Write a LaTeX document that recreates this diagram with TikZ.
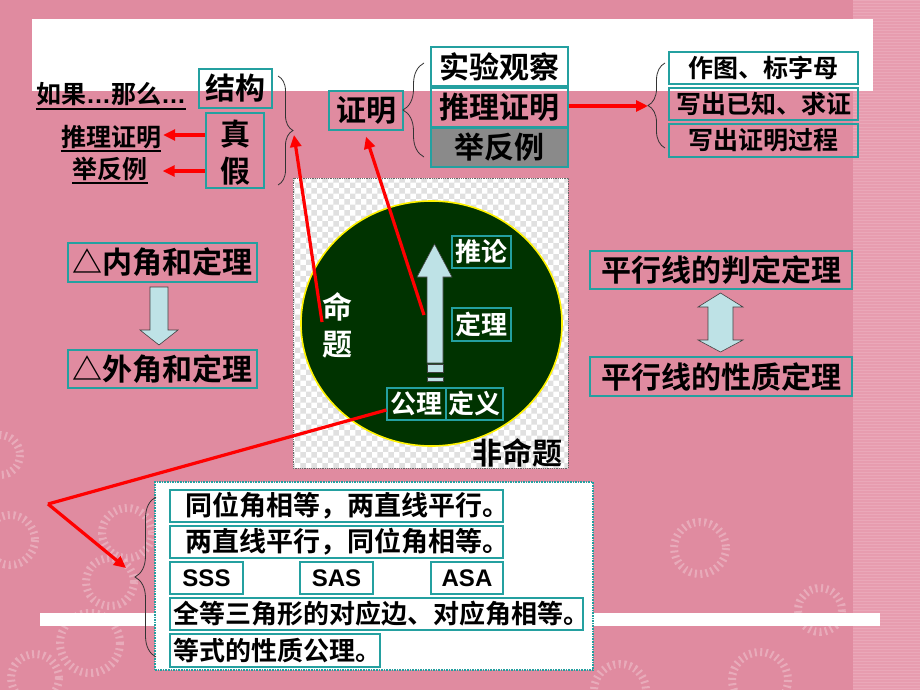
\documentclass[tikz,border=0pt]{standalone}
\usepackage{fontspec}
\setmainfont{Noto Sans CJK SC}[BoldFont={Noto Sans CJK SC Bold}]
\newfontfamily\latb{Liberation Sans Bold}
\usetikzlibrary{arrows.meta,decorations.pathreplacing,patterns,calc,shapes.geometric}
\definecolor{bgpink}{RGB}{224,139,160}
\definecolor{strippink}{RGB}{231,156,175}
\definecolor{tealc}{RGB}{36,160,160}
\definecolor{greyfill}{RGB}{138,138,138}
\definecolor{circg}{RGB}{0,51,0}
\definecolor{lblue}{RGB}{190,226,230}
\tikzset{
  fs/.style={font=\fontsize{#1pt}{#1pt}\selectfont\bfseries},
  tbox/.style={draw=tealc, line width=1.2pt, inner sep=0pt, align=center},
  wtxt/.style={text=white},
  redarrow/.style={draw=red, line width=3.2pt, -{Triangle[length=12pt,width=11pt]}},
  redline/.style={draw=red, line width=3.2pt},
  bracestyle/.style={draw=black!80, line width=0.8pt, decorate},
  ring/.style={draw=white, opacity=0.28, line width=8pt, dash pattern=on 2pt off 3.5pt},
  fatarrow/.style={fill=lblue, draw=black!75, line width=0.6pt},
  rowbox/.style={tbox, align=left, minimum height=32pt},
  latfont/.style={font=\fontsize{24pt}{24pt}\selectfont\latb},
}
\begin{document}
\begin{tikzpicture}[x=1pt,y=-1pt]
\useasboundingbox (0,0) rectangle (920,690);
% background
\fill[bgpink] (0,0) rectangle (920,690);
\fill[strippink] (853,0) rectangle (920,690);
\foreach \yy in {1,4,...,688} \draw[white,opacity=0.13,line width=1pt] (853,\yy) -- (920,\yy);
\foreach \cx/\cy/\r in {10/540/25, 0/455/20, 127/533/25, 110/582/24, 90/643/30, 35/678/24, 620/690/26, 760/680/28, 700/548/26, 820/610/22}
  \draw[ring] (\cx,\cy) circle (\r);
\fill[white] (32,19) rectangle (873,91);
\fill[white] (40,613) rectangle (880,626);

% ---------- top left ----------
\node[fs=25, inner sep=0pt] (rg) at (111,94) {如果{\latb …}那么{\latb …}};
\draw[line width=1.5pt] ($(rg.south west)+(0,3)$) -- ($(rg.south east)+(0,3)$);
\node[tbox, fs=30, minimum width=73pt, minimum height=39pt] (jg) at (235.5,88.5) {结构};
\node[tbox, minimum width=58pt, minimum height=75pt] (zj) at (235,150.5) {};
\node[fs=30, inner sep=0pt] (zhen) at (235,134) {真};
\node[fs=30, inner sep=0pt] (jia) at (235,171) {假};
\node[fs=25, inner sep=0pt] (tl1) at (111,137) {推理证明};
\draw[line width=1.5pt] ($(tl1.south west)+(0,2)$) -- ($(tl1.south east)+(0,2)$);
\node[fs=25, inner sep=0pt] (fl1) at (110,169) {举反例};
\draw[line width=1.5pt] ($(fl1.south west)+(0,2)$) -- ($(fl1.south east)+(0,2)$);
\draw[redarrow] (zj.west |- 0,135) -- ($(tl1.east |- 0,135)+(2,0)$);
\draw[redarrow] (zj.west |- 0,171) -- ($(fl1.east |- 0,171)+(15,0)$);
\draw[bracestyle, decoration={brace, amplitude=15pt}] (278,76) -- (278,185);
\coordinate (b1tip) at (294,135);

% ---------- top middle ----------
\node[tbox, fs=30, minimum width=74pt, minimum height=39pt] (zm) at (366,110.5) {证明};
\draw[bracestyle, decoration={brace, amplitude=21pt}] (424,157) -- (424,63);
\node[tbox, fs=30, fill=white, minimum width=137pt, minimum height=39pt] (syg) at (499.5,66.5) {实验观察};
\node[tbox, fs=30, minimum width=137pt, minimum height=39pt] (tlz) at (499.5,107.5) {推理证明};
\node[tbox, fs=30, fill=greyfill, minimum width=137pt, minimum height=39pt] (jfl) at (499.5,147.5) {举反例};

% ---------- top right ----------
\draw[bracestyle, decoration={brace, amplitude=17pt}] (665,148) -- (665,63);
\coordinate (b3tip) at (648,106);
\node[tbox, fs=25, fill=white, minimum width=189pt, minimum height=32pt] (zt) at (763.5,68) {作图、标字母};
\node[tbox, fs=25, minimum width=189pt, minimum height=32pt] (xyz) at (763.5,104) {写出已知、求证};
\node[tbox, fs=25, minimum width=189pt, minimum height=33pt] (xgc) at (763.5,140.5) {写出证明过程};
\draw[redarrow] (tlz.east |- 0,106) -- (b3tip);

% ---------- left theorems ----------
\node[tbox, fs=30, minimum width=189pt, minimum height=39pt] (nj) at (162.5,262.5) {△内角和定理};
\node[tbox, fs=30, minimum width=189pt, minimum height=38pt] (wj) at (162.5,369) {△外角和定理};
\draw[fatarrow] (150,287) -- (168,287) -- (168,330) -- (178,330) -- (159,345) -- (140,330) -- (150,330) -- cycle;

% ---------- right theorems ----------
\node[tbox, fs=30, minimum width=262pt, minimum height=38pt] (pd) at (721,270) {平行线的判定定理};
\node[tbox, fs=30, minimum width=262pt, minimum height=39pt] (xz) at (721,376.5) {平行线的性质定理};
\draw[fatarrow] (720.5,293) -- (743,307) -- (733,307) -- (733,340) -- (743,340) -- (720.5,352) -- (698,340) -- (708,340) -- (708,307) -- (698,307) -- cycle;

% ---------- centre circle ----------
\fill[white] (293,178) rectangle (568,468);
\fill[pattern=checkerboard, pattern color=black!12] (293,178) rectangle (568,468);
\draw[black!60, densely dotted, line width=0.8pt] (293,178) rectangle (568,468);
\node[ellipse, draw=yellow, line width=1.6pt, fill=circg, minimum width=261pt, minimum height=245pt, inner sep=0pt] (circ) at (431.5,323.5) {};
\draw[fatarrow] (427,363) -- (427,277) -- (417,277) -- (434.5,244) -- (452,277) -- (443,277) -- (443,363) -- cycle;
\draw[fatarrow] (427,364) rectangle (443,372);
\draw[fatarrow] (427,377) rectangle (443,381);
\node[tbox, fs=26, wtxt, minimum width=59pt, minimum height=32pt] (tuilun) at (481.5,252) {推论};
\node[tbox, fs=26, wtxt, minimum width=59pt, minimum height=33pt] (dingli) at (481.5,324.5) {定理};
\node[tbox, fs=26, wtxt, minimum width=59pt, minimum height=32pt] (gongli) at (416.5,404) {公理};
\node[tbox, fs=26, wtxt, minimum width=57pt, minimum height=32pt] (dingyi) at (474.5,404) {定义};
\node[fs=30, wtxt, inner sep=0pt] (ming) at (337,307) {命};
\node[fs=30, wtxt, inner sep=0pt] (ti) at (337,345) {题};
\node[fs=30, inner sep=0pt] (fmt) at (517.5,453) {非命题};
\coordinate (mstart) at (322,322);
\coordinate (shaftpt) at (424,315);
\draw[redarrow] (mstart) -- (b1tip);
\draw[redarrow] (shaftpt) -- ($(zm.south)+(0,6)$);

% ---------- bottom box ----------
\node[draw=tealc, densely dotted, line width=1.6pt, fill=white, minimum width=438pt, minimum height=188pt, inner sep=0pt] (bb) at (374,576) {};
\draw[bracestyle, decoration={brace, amplitude=21pt}] (156,657) -- (156,497);
\coordinate (vpt) at (48,504);
\coordinate (b4tip) at (126,568);
\draw[redline, line join=miter] ($(gongli.west)+(0,6)$) -- (vpt);
\draw[redarrow] (vpt) -- (b4tip);
\node[rowbox, fs=27, inner xsep=15pt, text width=303pt] (r1) at (336.5,506) {同位角相等，两直线平行。};
\node[rowbox, fs=27, inner xsep=15pt, text width=303pt] (r2) at (336.5,542) {两直线平行，同位角相等。};
\node[tbox, latfont, minimum width=73pt, minimum height=32pt] (sss) at (206.5,578) {SSS};
\node[tbox, latfont, minimum width=73pt, minimum height=32pt] (sas) at (336.5,578) {SAS};
\node[tbox, latfont, minimum width=72pt, minimum height=32pt] (asa) at (467,578) {ASA};
\node[rowbox, fs=26, inner xsep=3pt, text width=407pt] (r4) at (376.5,614) {全等三角形的对应边、对应角相等。};
\node[rowbox, fs=26, inner xsep=3pt, text width=204pt, minimum height=33pt] (r5) at (275,650.5) {等式的性质公理。};
\end{tikzpicture}
\end{document}
